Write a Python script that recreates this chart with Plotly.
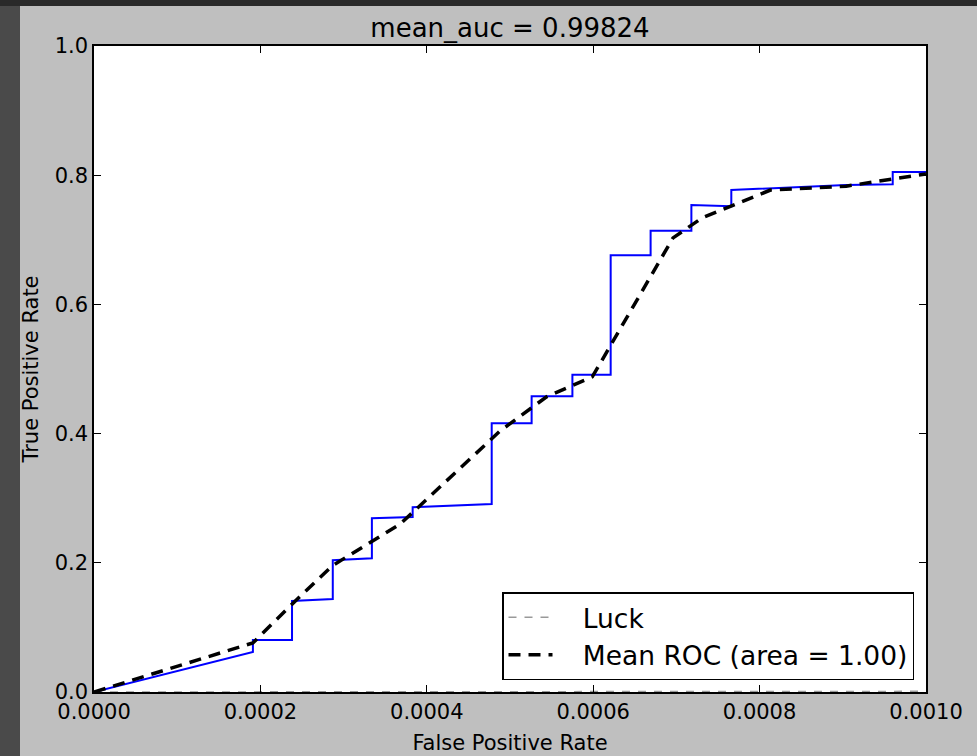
import plotly.graph_objects as go

# ---- data ----
roc_fpr = [0.0, 0.000191, 0.000191, 0.000238, 0.000238, 0.000287, 0.000287, 0.000334, 0.000334,
           0.000383, 0.000383, 0.000430, 0.000430, 0.000478, 0.000478, 0.000526, 0.000526,
           0.000575, 0.000575, 0.000621, 0.000621, 0.000669, 0.000669, 0.000718, 0.000718,
           0.000766, 0.000766, 0.000815, 0.000904, 0.000960, 0.000960, 0.001]
roc_tpr = [0.0, 0.062, 0.0805, 0.0805, 0.141, 0.144, 0.204, 0.207, 0.269,
           0.271, 0.286, 0.288, 0.289, 0.291, 0.416, 0.416, 0.458,
           0.458, 0.491, 0.491, 0.676, 0.676, 0.714, 0.714, 0.754,
           0.752, 0.777, 0.780, 0.785, 0.786, 0.805, 0.805]

mean_fpr = [0.0, 0.000191, 0.000238, 0.000287, 0.000368, 0.000488, 0.000544, 0.000599,
            0.000696, 0.000731, 0.000813, 0.000904, 0.001]
mean_tpr = [0.0, 0.076, 0.136, 0.196, 0.260, 0.404, 0.457, 0.488,
            0.703, 0.734, 0.777, 0.783, 0.802]

luck_x = [0.0, 1.0]
luck_y = [0.0, 1.0]

x_ticks = [0.0, 0.0002, 0.0004, 0.0006, 0.0008, 0.0010]
y_ticks = [0.0, 0.2, 0.4, 0.6, 0.8, 1.0]

title_text = "mean_auc = 0.99824"
luck_label = "Luck"
mean_label = "Mean ROC (area = 1.00)"

FONT = "DejaVu Sans"
GAP = "\u00a0\u00a0\u00a0"

fig = go.Figure()
fig.add_trace(go.Scatter(x=luck_x, y=luck_y, mode="lines", name=GAP + luck_label,
                         line=dict(color="#999999", width=1.5, dash="8px,8px")))
fig.add_trace(go.Scatter(x=roc_fpr, y=roc_tpr, mode="lines", showlegend=False,
                         line=dict(color="#0000ff", width=2)))
fig.add_trace(go.Scatter(x=mean_fpr, y=mean_tpr, mode="lines", name=GAP + mean_label,
                         line=dict(color="black", width=3.5, dash="12px,8px")))

W, H = 977, 756
L, R, T, B = 94, 926, 46, 692
pw, ph = R - L, B - T

def px(x):
    return (x - L) / pw

def py(y):
    return (B - y) / ph

fig.update_layout(
    width=W, height=H,
    margin=dict(l=L, r=W - R, t=T, b=H - B, pad=0, autoexpand=False),
    paper_bgcolor="#bfbfbf",
    plot_bgcolor="white",
    font=dict(family=FONT, size=21, color="black"),
    title=dict(text=title_text, x=(L + R) / 2 / W, xanchor="center",
               y=1 - 28 / H, yanchor="middle", yref="container",
               font=dict(size=26, family=FONT, color="black")),
    xaxis=dict(range=[0, 0.001], tickvals=x_ticks, tickformat=".4f",
               ticks="inside", ticklen=7, tickwidth=1, tickcolor="black",
               showline=True, linecolor="black", linewidth=1.5, mirror="ticks",
               showgrid=False, zeroline=False, automargin=False,
               title=dict(text="False Positive Rate", standoff=12,
                          font=dict(size=21, family=FONT))),
    yaxis=dict(range=[0, 1], tickvals=y_ticks, tickformat=".1f",
               ticks="inside", ticklen=7, tickwidth=1, tickcolor="black",
               showline=True, linecolor="black", linewidth=1.5, mirror="ticks",
               showgrid=False, zeroline=False, automargin=False,
               title=dict(text="True Positive Rate", standoff=10,
                          font=dict(size=21, family=FONT))),
    legend=dict(x=px(914), y=py(680), xanchor="right", yanchor="bottom",
                bgcolor="white", bordercolor="black", borderwidth=1.5,
                font=dict(size=26.5, family=FONT), traceorder="normal",
                itemwidth=44),
    shapes=[
        dict(type="rect", xref="paper", yref="paper", layer="below",
             x0=px(0), x1=px(20), y0=py(H), y1=py(0),
             fillcolor="#4a4a4a", line=dict(width=0)),
        dict(type="rect", xref="paper", yref="paper", layer="below",
             x0=px(0), x1=px(W), y0=py(6), y1=py(0),
             fillcolor="#2a2a2a", line=dict(width=0)),
    ],
)

fig.write_html("out.html", config={"displayModeBar": False},
               post_script="document.body.style.margin='0';")
